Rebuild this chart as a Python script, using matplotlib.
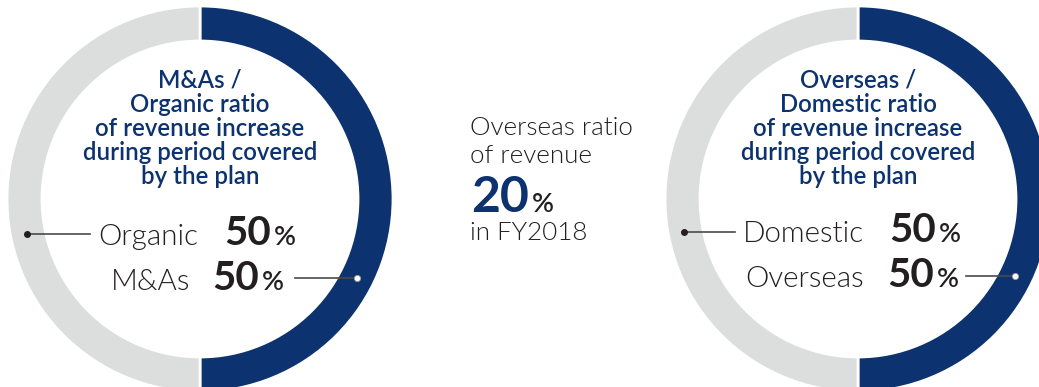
import matplotlib.pyplot as plt

# ring shares (navy first, clockwise from the top)
left_shares = [50, 50]      # M&As, Organic
right_shares = [50, 50]     # Overseas, Domestic
overseas_fy2018 = 20

left_title = ['M&As /', 'Organic ratio', 'of revenue increase',
              'during period covered', 'by the plan']
right_title = ['Overseas /', 'Domestic ratio', 'of revenue increase',
               'during period covered', 'by the plan']
left_labels = ['M&As', 'Organic']
right_labels = ['Overseas', 'Domestic']
note_lines = ['Overseas ratio', 'of revenue', 'in FY2018']

NAVY = '#0c326f'
GREY = '#dcdedd'
INK = '#231f20'
LINE = '#4a4a4a'
FONT = 'Lato'

fig = plt.figure(figsize=(10.39, 3.87), dpi=100)
ax = fig.add_axes([0, 0, 1, 1])

for shares, cx in [(left_shares, 200), (right_shares, 858)]:
    ax.pie(shares, colors=[NAVY, GREY], startangle=90, counterclock=False,
           radius=193, center=(cx, 199),
           wedgeprops=dict(width=35, edgecolor='white', linewidth=2))

ax.set_xlim(0, 1039)
ax.set_ylim(387, 0)
ax.set_aspect('auto')
ax.axis('off')

renderer = fig.canvas.get_renderer()


def width_px(t):
    return t.get_window_extent(renderer).width


def fit_size(s, target, weight):
    # font size at which the string s is target pixels wide
    t = ax.text(0, 0, s, fontsize=20, fontweight=weight, family=FONT)
    w = width_px(t)
    t.remove()
    return 20 * target / w


title_size = fit_size('during period covered', 234, 'semibold')
label_size = fit_size('Organic', 100, 300)
value_size = fit_size('50', 47, 'bold')
pct_size = fit_size('%', 22, 'semibold')
note_size = fit_size('Overseas ratio', 163, 300)
big_size = fit_size('20', 58, 'bold')

# titles inside the rings
for title, cx in [(left_title, 200), (right_title, 858)]:
    for i, line in enumerate(title):
        ax.text(cx, 88 + i * 24, line, ha='center', va='baseline',
                fontsize=title_size, fontweight='semibold', color=NAVY,
                family=FONT)


def value_pct(x, y, value, size, color):
    t = ax.text(x, y, str(value), ha='left', va='baseline', fontsize=size,
                fontweight='bold', color=color, family=FONT)
    ax.text(x + width_px(t) + 3, y, '%', ha='left', va='baseline',
            fontsize=pct_size, fontweight='semibold', color=INK, family=FONT)


def share_row(label, value, x_lab, x_val, y):
    ax.text(x_lab, y, label, ha='left', va='baseline', fontsize=label_size,
            fontweight=300, color=INK, family=FONT)
    value_pct(x_val, y, value, value_size, INK)


share_row(left_labels[1], left_shares[1], 98, 224, 245)
share_row(left_labels[0], left_shares[0], 111, 212, 290)
share_row(right_labels[1], right_shares[1], 743, 889, 242)
share_row(right_labels[0], right_shares[0], 745, 887, 287)

# leader lines from ring to label
leaders = [((27, 90), 234, INK), ((295, 357), 278, 'white'),
           ((684, 735), 232, INK), ((966, 1015), 276, 'white')]
for (x0, x1), y, dot in leaders:
    ax.plot([x0, x1], [y, y], color=LINE, lw=1.2)
    if dot == INK:
        ax.plot(x0, y, 'o', ms=4, mfc=INK, mec=INK)
    else:
        ax.plot(x1, y, 'o', ms=4.5, mfc='white', mec='#999999', mew=0.6)

# centre note
for line, y in zip(note_lines, [135, 163, 240]):
    ax.text(470, y, line, ha='left', va='baseline', fontsize=note_size,
            fontweight=300, color=INK, family=FONT)
value_pct(471, 212, overseas_fy2018, big_size, NAVY)

fig.savefig('out.png', dpi=100)
